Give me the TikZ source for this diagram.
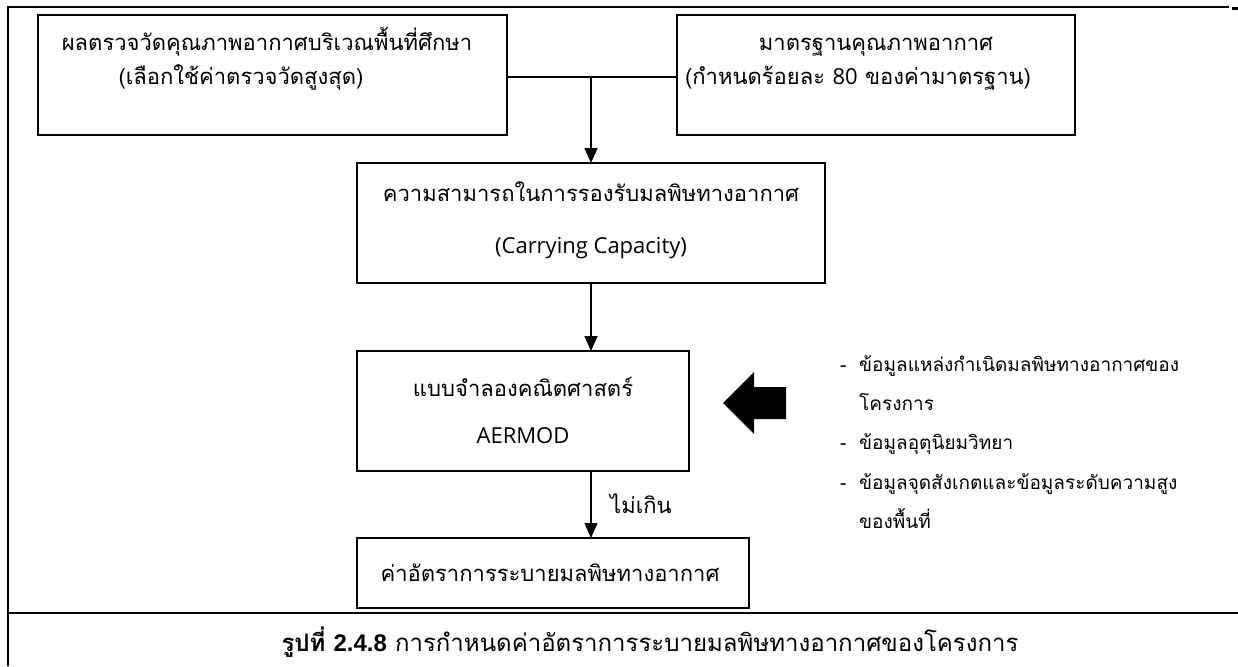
\documentclass[tikz,border=0pt]{standalone}
\usepackage{fontspec}
\setmainfont{Loma}[Script=Thai]
\newfontfamily\lat{Open Sans}
\newfontfamily\capl{Liberation Sans}
\usetikzlibrary{arrows.meta}
\tikzset{
  box/.style={draw, line width=1.3pt, inner sep=0pt, outer sep=0pt},
  txt/.style={anchor=base, inner sep=0pt, font=\fontsize{22}{26}\selectfont},
  side/.style={anchor=base west, inner sep=0pt, font=\fontsize{19}{23}\selectfont},
  conn/.style={line width=1.3pt},
  arr/.style={line width=1.3pt, -{Triangle[length=15pt,width=13pt]}},
  frame/.style={line width=2.4pt},
}
\begin{document}
\begin{tikzpicture}[x=1pt,y=-1pt]
\useasboundingbox (0,0) rectangle (1238,666);
\fill[white] (0,0) rectangle (1238,666);
% frame
\draw[frame] (8,666) -- (8,7) -- (1229,7);
\draw[line width=3.5pt] (1232,8.5) -- (1238,8.5);
\draw[frame] (8,613) -- (1238,613);
% boxes
\node[box, minimum width=469pt, minimum height=120pt] (tl) at (272.5,75) {};
\node[box, minimum width=398pt, minimum height=120pt] (tr) at (876,75) {};
\node[box, minimum width=468pt, minimum height=120pt] (mid) at (591,223) {};
\node[box, minimum width=332pt, minimum height=120pt] (aer) at (523,411) {};
\node[box, minimum width=392pt, minimum height=70pt] (bot) at (553,573) {};
% texts
\node[txt] (tl1) at (267,51) {ผลตรวจวัดคุณภาพอากาศบริเวณพื้นที่ศึกษา};
\node[txt] (tl2) at (241,85) {(เลือกใช้ค่าตรวจวัดสูงสุด)};
\node[txt] (tr1) at (876,51) {มาตรฐานคุณภาพอากาศ};
\node[txt] (tr2) at (858,85) {(กำหนดร้อยละ {\lat 80} ของค่ามาตรฐาน)};
\node[txt] (mid1) at (591,201) {ความสามารถในการรองรับมลพิษทางอากาศ};
\node[txt] (mid2) at (591,253) {\lat (Carrying Capacity)};
\node[txt] (aer1) at (523,396) {แบบจำลองคณิตศาสตร์};
\node[txt] (aer2) at (523,443) {\lat AERMOD};
\node[txt] (bot1) at (550,581) {ค่าอัตราการระบายมลพิษทางอากาศ};
\node[txt, anchor=base west] (nk) at (610,513) {ไม่เกิน};
% side list
\node[side] (s1) at (840,371) {\makebox[19pt][l]{-}ข้อมูลแหล่งกำเนิดมลพิษทางอากาศของ};
\node[side] (s2) at (859,410) {โครงการ};
\node[side] (s3) at (840,449) {\makebox[19pt][l]{-}ข้อมูลอุตุนิยมวิทยา};
\node[side] (s4) at (840,489) {\makebox[19pt][l]{-}ข้อมูลจุดสังเกตและข้อมูลระดับความสูง};
\node[side] (s5) at (859,528) {ของพื้นที่};
% block arrow
\fill (723,403) -- (754,372) -- (754,387) -- (786,387) -- (786,419) -- (754,419) -- (754,434) -- cycle;
% connectors
\coordinate (cl) at ([yshift=-2pt]tl.east);
\coordinate (cr) at ([yshift=-2pt]tr.west);
\coordinate (j) at (cl -| mid.north);
\draw[conn] (cl) -- (cr);
\draw[arr] (j) -- (mid.north);
\draw[arr] (mid.south) -- (mid.south |- aer.north);
\draw[arr] (mid.south |- aer.south) -- (mid.south |- bot.north);
% caption
\node[anchor=base, inner sep=0pt, font=\fontsize{24}{28}\selectfont] (cap) at (650,651) {\textbf{รูปที่ {\capl 2.4.8}} การกำหนดค่าอัตราการระบายมลพิษทางอากาศของโครงการ};
\end{tikzpicture}
\end{document}
